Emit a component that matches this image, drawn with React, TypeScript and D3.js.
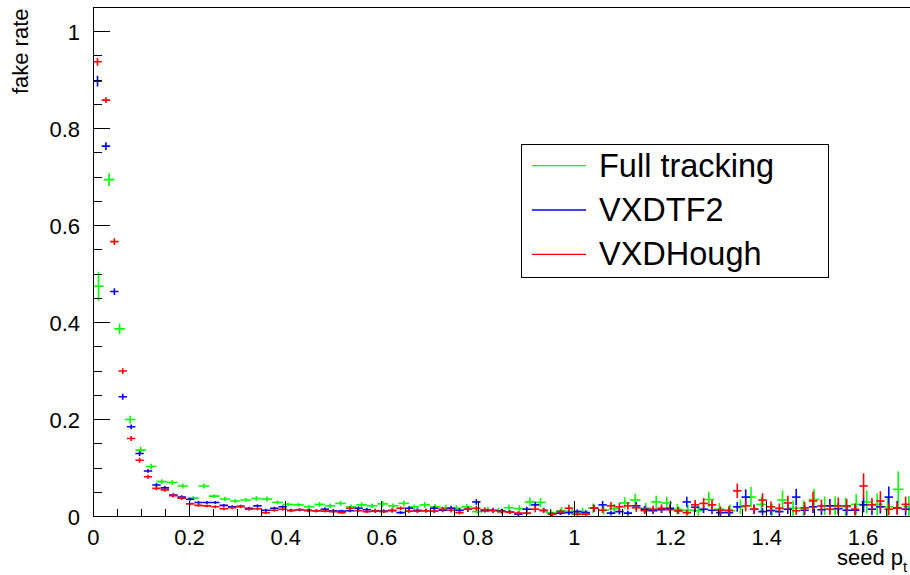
import React from 'react';
import * as d3 from 'd3';

// ---------- data ----------
const xMax = 1.75;
const yMax = 1.05;
const fullBinCount = 80;
const vxdBinCount = 100;

const seriesNames = ['Full tracking', 'VXDTF2', 'VXDHough'];
const seriesColors = ['#00ff00', '#0000ff', '#ff0000'];

const xTickValues = [0, 0.2, 0.4, 0.6, 0.8, 1, 1.2, 1.4, 1.6];
const xTickLabels = ['0', '0.2', '0.4', '0.6', '0.8', '1', '1.2', '1.4', '1.6'];
const yTickValues = [0, 0.2, 0.4, 0.6, 0.8, 1];
const yTickLabels = ['0', '0.2', '0.4', '0.6', '0.8', '1'];

// Full tracking (80 bins)
const fullRate = [
  0.475, 0.695, 0.387, 0.200, 0.137, 0.103, 0.072, 0.070, 0.063, 0.038,
  0.063, 0.042, 0.036, 0.032, 0.034, 0.037, 0.036, 0.029, 0.025, 0.024,
  0.020, 0.025, 0.022, 0.027, 0.020, 0.024, 0.022, 0.026, 0.022, 0.027,
  0.020, 0.024, 0.020, 0.018, 0.017, 0.020, 0.010, 0.014, 0.012, 0.018,
  0.016, 0.030, 0.029, 0.008, 0.012, 0.010, 0.010, 0.017, 0.013, 0.016,
  0.028, 0.034, 0.017, 0.030, 0.028, 0.015, 0.013, 0.012, 0.035, 0.015,
  0.012, 0.020, 0.040, 0.025, 0.013, 0.034, 0.017, 0.017, 0.035, 0.022,
  0.022, 0.020, 0.025, 0.030, 0.025, 0.020, 0.056, 0.020, 0.020, 0.020,
];
const fullErr = [
  0.030, 0.013, 0.011, 0.008, 0.007, 0.006, 0.005, 0.005, 0.005, 0.004,
  0.005, 0.004, 0.004, 0.004, 0.004, 0.005, 0.005, 0.004, 0.004, 0.004,
  0.004, 0.005, 0.005, 0.005, 0.005, 0.005, 0.005, 0.006, 0.005, 0.006,
  0.005, 0.006, 0.006, 0.006, 0.006, 0.006, 0.005, 0.006, 0.006, 0.007,
  0.007, 0.009, 0.009, 0.006, 0.008, 0.008, 0.008, 0.010, 0.009, 0.010,
  0.012, 0.013, 0.011, 0.013, 0.013, 0.011, 0.011, 0.011, 0.016, 0.013,
  0.012, 0.015, 0.021, 0.016, 0.013, 0.020, 0.016, 0.016, 0.022, 0.019,
  0.019, 0.019, 0.021, 0.024, 0.023, 0.021, 0.037, 0.022, 0.022, 0.022,
];

// VXDTF2 (100 bins)
const vxdtf2Rate = [
  0.898, 0.764, 0.464, 0.247, 0.185, 0.130, 0.094, 0.065, 0.059, 0.044,
  0.040, 0.0355, 0.029, 0.029, 0.029, 0.023, 0.020, 0.021, 0.017, 0.022,
  0.013, 0.017, 0.020, 0.013, 0.014, 0.013, 0.012, 0.015, 0.012, 0.011,
  0.012, 0.017, 0.014, 0.012, 0.011, 0.012, 0.008, 0.017, 0.013, 0.012,
  0.017, 0.013, 0.017, 0.013, 0.015, 0.030, 0.012, 0.013, 0.011, 0.009,
  0.005, 0.015, 0.024, 0.013, 0.005, 0.007, 0.008, 0.010, 0.008, 0.017,
  0.024, 0.007, 0.010, 0.007, 0.022, 0.015, 0.012, 0.014, 0.017, 0.012,
  0.030, 0.019, 0.015, 0.013, 0.008, 0.008, 0.020, 0.040, 0.015, 0.010,
  0.012, 0.010, 0.015, 0.040, 0.013, 0.020, 0.014, 0.022, 0.016, 0.013,
  0.013, 0.024, 0.015, 0.020, 0.040, 0.018, 0.015, 0.020, 0.020, 0.020,
];
const vxdtf2Err = [
  0.011, 0.008, 0.007, 0.006, 0.005, 0.005, 0.004, 0.004, 0.004, 0.004,
  0.004, 0.003, 0.003, 0.003, 0.003, 0.003, 0.003, 0.003, 0.003, 0.003,
  0.003, 0.003, 0.003, 0.003, 0.003, 0.003, 0.003, 0.004, 0.003, 0.003,
  0.003, 0.004, 0.004, 0.004, 0.004, 0.004, 0.003, 0.004, 0.004, 0.004,
  0.005, 0.004, 0.005, 0.004, 0.005, 0.006, 0.004, 0.005, 0.005, 0.004,
  0.004, 0.005, 0.006, 0.005, 0.004, 0.004, 0.005, 0.005, 0.005, 0.007,
  0.008, 0.005, 0.006, 0.005, 0.008, 0.007, 0.007, 0.007, 0.008, 0.007,
  0.011, 0.009, 0.008, 0.008, 0.007, 0.007, 0.010, 0.016, 0.010, 0.008,
  0.009, 0.009, 0.010, 0.017, 0.010, 0.013, 0.011, 0.014, 0.012, 0.011,
  0.011, 0.015, 0.012, 0.014, 0.022, 0.014, 0.013, 0.015, 0.015, 0.015,
];

// VXDHough (100 bins)
const vxdHoughRate = [
  0.938, 0.859, 0.567, 0.300, 0.161, 0.116, 0.082, 0.058, 0.055, 0.043,
  0.038, 0.026, 0.023, 0.022, 0.020, 0.016, 0.018, 0.020, 0.015, 0.016,
  0.008, 0.013, 0.015, 0.012, 0.014, 0.012, 0.012, 0.011, 0.010, 0.008,
  0.017, 0.012, 0.010, 0.011, 0.010, 0.013, 0.017, 0.011, 0.011, 0.012,
  0.011, 0.015, 0.013, 0.008, 0.015, 0.017, 0.014, 0.012, 0.010, 0.009,
  0.007, 0.007, 0.015, 0.012, 0.005, 0.010, 0.017, 0.005, 0.005, 0.017,
  0.013, 0.022, 0.020, 0.022, 0.018, 0.012, 0.015, 0.017, 0.014, 0.012,
  0.008, 0.024, 0.027, 0.024, 0.013, 0.013, 0.053, 0.022, 0.015, 0.034,
  0.020, 0.017, 0.028, 0.012, 0.018, 0.032, 0.022, 0.015, 0.022, 0.022,
  0.015, 0.063, 0.024, 0.032, 0.015, 0.017, 0.025, 0.030, 0.020, 0.020,
];
const vxdHoughErr = [
  0.008, 0.006, 0.007, 0.006, 0.005, 0.005, 0.004, 0.004, 0.004, 0.004,
  0.004, 0.003, 0.003, 0.003, 0.003, 0.003, 0.003, 0.003, 0.003, 0.003,
  0.003, 0.003, 0.003, 0.003, 0.003, 0.003, 0.003, 0.003, 0.003, 0.003,
  0.004, 0.003, 0.003, 0.004, 0.003, 0.004, 0.004, 0.004, 0.004, 0.004,
  0.004, 0.005, 0.005, 0.004, 0.005, 0.005, 0.005, 0.005, 0.004, 0.004,
  0.004, 0.004, 0.006, 0.005, 0.004, 0.005, 0.007, 0.004, 0.004, 0.007,
  0.006, 0.008, 0.008, 0.008, 0.008, 0.007, 0.007, 0.008, 0.008, 0.007,
  0.006, 0.010, 0.011, 0.010, 0.008, 0.008, 0.015, 0.011, 0.009, 0.014,
  0.011, 0.010, 0.015, 0.009, 0.012, 0.019, 0.013, 0.012, 0.017, 0.014,
  0.012, 0.026, 0.014, 0.020, 0.012, 0.013, 0.016, 0.020, 0.015, 0.015,
];

const FONT = '"Liberation Sans", Arial, Helvetica, sans-serif';

export default function App() {
  const W = 910;
  const H = 575;
  const left = 93.3;
  const right = 935.1;
  const top = 7.5;
  const bottom = 516.5;

  const x = d3.scaleLinear().domain([0, xMax]).range([left, right]);
  const y = d3.scaleLinear().domain([0, yMax]).range([bottom, top]);

  const series = [
    { rate: fullRate, err: fullErr, n: fullBinCount, color: seriesColors[0] },
    { rate: vxdtf2Rate, err: vxdtf2Err, n: vxdBinCount, color: seriesColors[1] },
    { rate: vxdHoughRate, err: vxdHoughErr, n: vxdBinCount, color: seriesColors[2] },
  ];

  const minorX = d3.range(0, xMax + 1e-9, 0.05);
  const minorY = d3.range(0, yMax + 1e-9, 0.05);
  const isMajor = (v: number) => Math.abs(v / 0.2 - Math.round(v / 0.2)) < 1e-6;

  const legendX = 521.5;
  const legendY = 144;
  const legendW = 307;
  const legendH = 133.5;
  const legendRows = [165.7, 210, 254.3];

  return (
    <svg
      width={W}
      height={H}
      style={{ position: 'absolute', left: 0, top: 0, background: '#fff' }}
      fontFamily={FONT}
    >
      <rect x={0} y={0} width={W} height={H} fill="#fff" />
      <defs>
        <clipPath id="frameClip">
          <rect x={left} y={top} width={right - left} height={bottom - top} />
        </clipPath>
      </defs>

      {/* data */}
      <g clipPath="url(#frameClip)">
        {series.map((s, si) => {
          const w = xMax / s.n;
          return (
            <g key={si} stroke={s.color} strokeWidth={1.6}>
              {s.rate.map((v, i) => {
                const xl = x(i * w);
                const xr = x((i + 1) * w);
                const xc = x((i + 0.5) * w);
                const yc = y(v);
                return (
                  <g key={i}>
                    <line x1={xl} x2={xr} y1={yc} y2={yc} />
                    <line x1={xc} x2={xc} y1={y(v - s.err[i])} y2={y(v + s.err[i])} />
                  </g>
                );
              })}
            </g>
          );
        })}
      </g>

      {/* frame */}
      <g stroke="#000" strokeWidth={1} fill="none" shapeRendering="crispEdges">
        <line x1={left} x2={left} y1={top} y2={bottom} />
        <line x1={left} x2={right} y1={bottom} y2={bottom} />
        <line x1={left} x2={right} y1={top} y2={top} />
        <line x1={right} x2={right} y1={top} y2={bottom} />
        {minorX.map((v, i) => (
          <line key={'xt' + i} x1={x(v)} x2={x(v)} y1={bottom} y2={bottom - (isMajor(v) ? 16 : 8)} />
        ))}
        {minorY.map((v, i) => (
          <line key={'yt' + i} x1={left} x2={left + (isMajor(v) ? 17 : 8.5)} y1={y(v)} y2={y(v)} />
        ))}
      </g>

      {/* tick labels */}
      <g fontSize={22} fill="#000">
        {xTickValues.map((v, i) => (
          <text key={'xl' + i} x={x(v)} y={545} textAnchor="middle">
            {xTickLabels[i]}
          </text>
        ))}
        {yTickValues.map((v, i) => (
          <text key={'yl' + i} x={80} y={y(v) + 8} textAnchor="end">
            {yTickLabels[i]}
          </text>
        ))}
      </g>

      {/* axis titles */}
      <text x={837} y={565} fontSize={22} fill="#000">
        seed p
        <tspan fontSize={15} dy={7}>t</tspan>
      </text>
      <text
        transform={`translate(28, ${top + 1}) rotate(-90)`}
        textAnchor="end"
        fontSize={22}
        fill="#000"
      >
        fake rate
      </text>

      {/* legend */}
      <g>
        <rect
          x={legendX}
          y={legendY}
          width={legendW}
          height={legendH}
          fill="#fff"
          stroke="#000"
          strokeWidth={1}
          shapeRendering="crispEdges"
        />
        {seriesNames.map((name, i) => (
          <g key={name}>
            <line x1={532} x2={586} y1={legendRows[i]} y2={legendRows[i]} stroke={seriesColors[i]} strokeWidth={1.3} />
            <text x={599} y={legendRows[i] + 11} fontSize={32.5} fill="#000">
              {name}
            </text>
          </g>
        ))}
      </g>
    </svg>
  );
}
